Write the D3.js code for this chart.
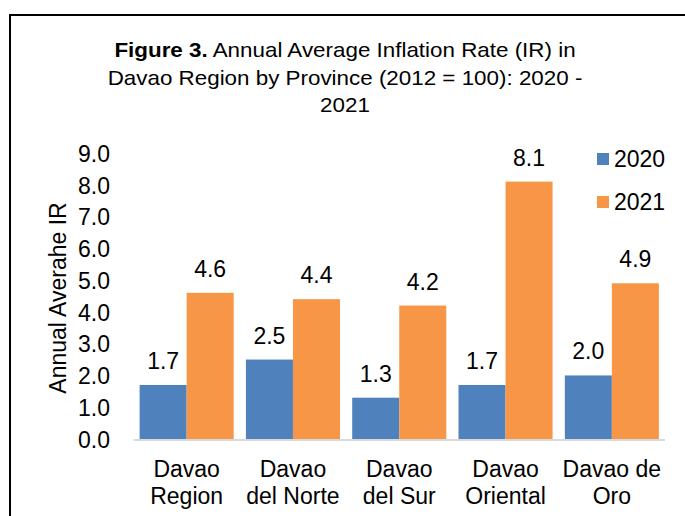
<!DOCTYPE html>
<html>
<head>
<meta charset="utf-8">
<script src="https://cdn.jsdelivr.net/npm/d3@7"></script>
<style>
  body { margin: 0; background: #fff; }
  text { font-family: "Liberation Sans", Arial, sans-serif; fill: #000; }
</style>
</head>
<body>
<script>
// data
var provinces = [["Davao", "Region"], ["Davao", "del Norte"], ["Davao", "del Sur"], ["Davao", "Oriental"], ["Davao de", "Oro"]];
var years = ["2020", "2021"];
var ir2020 = [1.7, 2.5, 1.3, 1.7, 2.0];
var ir2021 = [4.6, 4.4, 4.2, 8.1, 4.9];
var yTicks = [0, 1, 2, 3, 4, 5, 6, 7, 8, 9];
var colors = ["#4f81bd", "#f79646"];

var W = 685, H = 516;
var x0 = 133.5, x1 = 665, yTop = 153, yBase = 439;

var svg = d3.select("body").append("svg")
  .attr("width", W)
  .attr("height", H);

// frame (runs off right/bottom edge)
svg.append("path")
  .attr("d", "M10,700 L10,15 L700,15")
  .attr("fill", "none")
  .attr("stroke", "#000")
  .attr("stroke-width", 2);

/*** Title ***/
var title = svg.append("text")
  .attr("transform", "translate(345,0) scale(1.12,1)")
  .attr("text-anchor", "middle")
  .style("font-size", "20px");
var t1 = title.append("tspan").attr("x", 0).attr("y", 57);
t1.append("tspan").style("font-weight", "bold").text("Figure 3.");
t1.append("tspan").text(" Annual Average Inflation Rate (IR) in");
title.append("tspan").attr("x", 0).attr("y", 85).text("Davao Region by Province (2012 = 100): 2020 -");
title.append("tspan").attr("x", 0).attr("y", 112).text("2021");

/*** Scales ***/
var xScale = d3.scaleBand()
  .domain(d3.range(provinces.length))
  .range([x0, x1])
  .paddingInner(0.115)
  .paddingOuter(0.0575);
var xSub = d3.scaleBand()
  .domain(years)
  .range([0, xScale.bandwidth()]);
var yScale = d3.scaleLinear()
  .domain([0, 9])
  .range([yBase, yTop]);

/*** Y axis ***/
var yAxis = d3.axisLeft(yScale)
  .tickValues(yTicks)
  .tickSize(0)
  .tickPadding(0)
  .tickFormat(d3.format(".1f"));
var yg = svg.append("g")
  .attr("transform", "translate(110,0)")
  .call(yAxis);
yg.select(".domain").remove();
yg.selectAll("text")
  .style("font-family", "Liberation Sans, Arial, sans-serif")
  .style("font-size", "23px")
  .attr("fill", "#000")
  .attr("dy", "0.36em");

svg.append("text")
  .attr("transform", "translate(66,298) rotate(-90)")
  .attr("text-anchor", "middle")
  .style("font-size", "23px")
  .text("Annual Averahe IR");

/*** Bars ***/
var rows = provinces.map(function(p, i) {
  return { i: i, vals: [ir2020[i], ir2021[i]] };
});
var groups = svg.selectAll(".grp")
  .data(rows)
  .enter().append("g")
  .attr("class", "grp")
  .attr("transform", function(d) { return "translate(" + xScale(d.i) + ",0)"; });

groups.selectAll("rect")
  .data(function(d) { return d.vals.map(function(v, k) { return { v: v, k: k }; }); })
  .enter().append("rect")
  .attr("x", function(d) { return xSub(years[d.k]); })
  .attr("y", function(d) { return yScale(d.v); })
  .attr("width", xSub.bandwidth())
  .attr("height", function(d) { return yBase - yScale(d.v); })
  .attr("fill", function(d) { return colors[d.k]; });

groups.selectAll(".lbl")
  .data(function(d) { return d.vals.map(function(v, k) { return { v: v, k: k }; }); })
  .enter().append("text")
  .attr("class", "lbl")
  .attr("x", function(d) { return xSub(years[d.k]) + xSub.bandwidth() / 2; })
  .attr("y", function(d) { return yScale(d.v) - 16; })
  .attr("text-anchor", "middle")
  .style("font-size", "23px")
  .text(function(d) { return d3.format(".1f")(d.v); });

/*** X axis line ***/
svg.append("line")
  .attr("x1", x0).attr("x2", x1)
  .attr("y1", yBase + 1).attr("y2", yBase + 1)
  .attr("stroke", "#d9d9d9")
  .attr("stroke-width", 2);

/*** Category labels ***/
var cats = svg.selectAll(".cat")
  .data(provinces)
  .enter().append("text")
  .attr("class", "cat")
  .attr("text-anchor", "middle")
  .style("font-size", "23px");
cats.append("tspan")
  .attr("x", function(d, i) { return xScale(i) + xScale.bandwidth() / 2; })
  .attr("y", 477)
  .text(function(d) { return d[0]; });
cats.append("tspan")
  .attr("x", function(d, i) { return xScale(i) + xScale.bandwidth() / 2; })
  .attr("y", 504)
  .text(function(d) { return d[1]; });

/*** Legend ***/
var leg = svg.selectAll(".leg")
  .data(years)
  .enter().append("g")
  .attr("class", "leg")
  .attr("transform", function(d, i) { return "translate(597," + (153 + i * 43) + ")"; });
leg.append("rect")
  .attr("width", 12).attr("height", 12)
  .attr("fill", function(d, i) { return colors[i]; });
leg.append("text")
  .attr("x", 17).attr("y", 14)
  .style("font-size", "23px")
  .text(function(d) { return d; });
</script>
</body>
</html>
